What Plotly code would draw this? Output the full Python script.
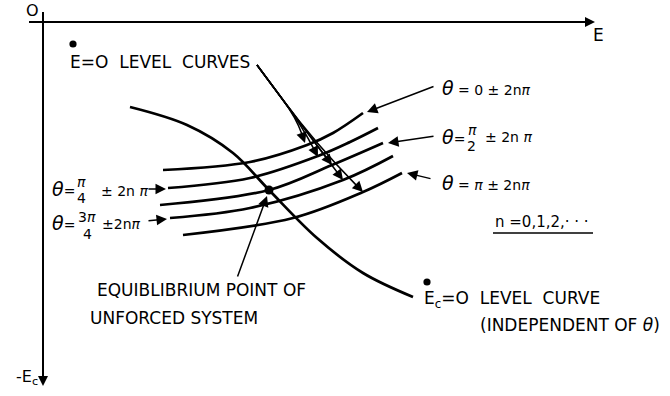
import math
import plotly.graph_objects as go

# ---------------------------------------------------------------
# Schematic phase-plane sketch in the (E, -E_c) plane.
# Coordinates are schematic units with the origin at the axes corner.
# ---------------------------------------------------------------

# E-dot = 0 level curves, one per phase angle theta
theta_0_x = [120, 207, 264, 290, 320]
theta_0_y = [-148, -140, -123, -111, -91]

theta_pi4_x = [125, 207, 275, 307, 335]
theta_pi4_y = [-166, -156, -134, -120, -106]

theta_pi2_x = [117, 226, 289, 340]
theta_pi2_y = [-183, -168, -143, -121]

theta_3pi4_x = [127, 207, 300, 350]
theta_3pi4_y = [-196, -186, -158, -134]

theta_pi_x = [140, 250, 320, 359]
theta_pi_y = [-213, -196, -170, -151]

# E_c-dot = 0 level curve (independent of theta)
ec_x = [87, 144, 190, 226, 274, 320, 370]
ec_y = [-85, -103, -131, -168, -216, -251, -275]

# equilibrium point of the unforced system
eq_x = [226]
eq_y = [-168]

# axis extents
x_axis_start, x_axis_end = -14, 552
y_axis_top, y_axis_bottom = 10, -364

# tips of the leader arrows from the "E=0 LEVEL CURVES" label
leader_start = (214, -43)
leader_joint = (240, -78)
leader_tips_x = [262, 275, 289, 300, 320]
leader_tips_y = [-121, -135, -143, -158, -170]

FONT = "DejaVu Sans"
BLACK = "black"

fig = go.Figure()

curves = [
    (theta_0_x, theta_0_y),
    (theta_pi4_x, theta_pi4_y),
    (theta_pi2_x, theta_pi2_y),
    (theta_3pi4_x, theta_3pi4_y),
    (theta_pi_x, theta_pi_y),
]
for cx, cy in curves:
    fig.add_trace(go.Scatter(x=cx, y=cy, mode="lines",
                             line=dict(color=BLACK, width=2.7, shape="spline", smoothing=1.0),
                             hoverinfo="skip", showlegend=False))

fig.add_trace(go.Scatter(x=ec_x, y=ec_y, mode="lines",
                         line=dict(color=BLACK, width=2.7, shape="spline", smoothing=1.0),
                         hoverinfo="skip", showlegend=False))

fig.add_trace(go.Scatter(x=eq_x, y=eq_y, mode="markers",
                         marker=dict(color=BLACK, size=9),
                         hoverinfo="skip", showlegend=False))

annotations = []
shapes = []


def label(x, y, text, size=16, xanchor="left", yanchor="middle"):
    annotations.append(dict(x=x, y=y, xref="x", yref="y", text=text, showarrow=False,
                            xanchor=xanchor, yanchor=yanchor,
                            font=dict(family=FONT, size=size, color=BLACK)))


def arrow(x0, y0, x1, y1, width=1.5, size=1.4, head=2):
    annotations.append(dict(x=x1, y=y1, ax=x0, ay=y0, xref="x", yref="y",
                            axref="x", ayref="y", text="", showarrow=True,
                            arrowhead=head, arrowsize=size, arrowwidth=width,
                            arrowcolor=BLACK, standoff=0, startstandoff=0))


def dot(x, y, r=3.6):
    shapes.append(dict(type="circle", xref="x", yref="y", x0=x - r, x1=x + r,
                       y0=y - r, y1=y + r, fillcolor=BLACK, line=dict(width=0)))


# axes
shapes.append(dict(type="line", xref="x", yref="y", x0=x_axis_start, y0=0, x1=x_axis_end - 4, y1=0,
                   line=dict(color=BLACK, width=2)))
arrow(x_axis_end - 14, 0, x_axis_end, 0, width=2, size=1.0)
shapes.append(dict(type="line", xref="x", yref="y", x0=0, y0=y_axis_top, x1=0, y1=y_axis_bottom + 4,
                   line=dict(color=BLACK, width=2)))
arrow(0, y_axis_bottom + 14, 0, y_axis_bottom, width=2, size=1.0)

label(-11, 12, "O", size=16, xanchor="center")
label(555, -13, "E", size=17, xanchor="center")
label(-3, -355, "-E<sub>c</sub>", size=16, xanchor="right")

# "E-dot = 0" label with leader arrows fanning out to each curve
label(25, -40, "E=O  LEVEL  CURVES", size=17)
dot(30, -22)
sx, sy = leader_start
jx, jy = leader_joint
ux, uy = jx - sx, jy - sy
un = math.hypot(ux, uy)
ux, uy = ux / un, uy / un
for tx, ty in zip(leader_tips_x, leader_tips_y):
    d = math.hypot(tx - jx, ty - jy)
    cx, cy = jx + ux * d * 0.45, jy + uy * d * 0.45
    vx, vy = tx - cx, ty - cy
    vn = math.hypot(vx, vy)
    bx, by = tx - vx / vn * 10, ty - vy / vn * 10
    shapes.append(dict(type="path", xref="x", yref="y",
                       path=f"M {sx},{sy} L {jx},{jy} Q {cx},{cy} {bx},{by}",
                       line=dict(color=BLACK, width=1.5)))
    arrow(bx, by, tx, ty, width=1.4, size=1.5)

# right-hand theta labels
TH = "<span style='font-size:19px'><i>θ</i></span>"
PI = "<i>π</i>"
label(397, -66, f"{TH} = 0 ± 2n{PI}", size=14)
arrow(392, -64, 324, -90)

label(397, -115, f"{TH}=", size=14)
label(429, -108, PI, size=14, xanchor="center")
label(428, -124, "2", size=14, xanchor="center")
label(440, -115, f"± 2n {PI}", size=14)
arrow(392, -114, 345, -121)

label(397, -161, f"{TH} = {PI} ± 2n{PI}", size=14)
arrow(389, -157, 364, -151)

label(450, -200, "n =0,1,2,· · ·", size=15)
shapes.append(dict(type="line", xref="x", yref="y", x0=450, y0=-211, x1=550, y1=-211,
                   line=dict(color=BLACK, width=1.5)))

# left-hand theta labels
label(7, -167, f"{TH}=", size=14)
label(38, -160, PI, size=14, xanchor="center")
label(38, -176, "4", size=14, xanchor="center")
label(56, -169, f"± 2n {PI}", size=14)
arrow(104, -167, 123, -167)

label(7, -201, f"{TH}=", size=14)
label(44, -195, f"3{PI}", size=14, xanchor="center")
label(44, -212, "4", size=14, xanchor="center")
label(57, -202, f"±2n{PI}", size=14)
arrow(104, -199, 124, -197)

# equilibrium point callout
label(52, -268, "EQUIBLIBRIUM POINT OF", size=17)
label(45, -296, "UNFORCED SYSTEM", size=17)
arrow(194, -256, 224, -174)

# E_c-dot = 0 callout
label(379, -277, "E<sub>c</sub>=O  LEVEL  CURVE", size=17)
dot(384, -260)
label(435, -303, "(INDEPENDENT OF <i>θ</i>)", size=17)

fig.update_layout(
    width=670, height=396,
    margin=dict(l=0, r=0, t=0, b=0),
    paper_bgcolor="white", plot_bgcolor="white",
    xaxis=dict(range=[-43, 627], visible=False, fixedrange=True),
    yaxis=dict(range=[-374, 22], visible=False, fixedrange=True),
    annotations=annotations, shapes=shapes,
    showlegend=False,
)

fig.write_html("out.html")
